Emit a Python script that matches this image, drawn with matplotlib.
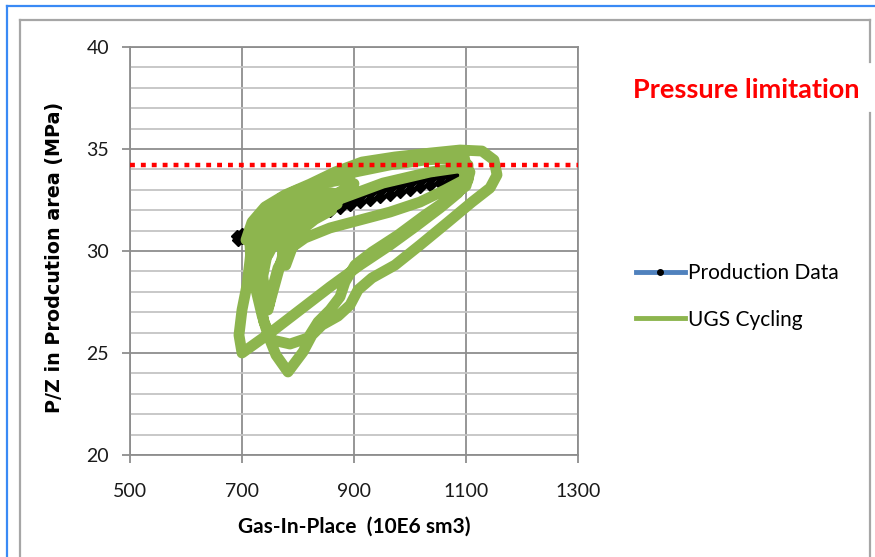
import matplotlib
matplotlib.use("Agg")
import matplotlib.pyplot as plt
from matplotlib.lines import Line2D
import numpy as np

# ---------------- data ----------------
x_ticks = [500, 700, 900, 1100, 1300]
y_ticks = [20, 25, 30, 35, 40]
pressure_limit = 34.2

ugs_gip = [707.1, 717.9, 741.1, 776.8, 821.4, 866.1, 914.3, 973.2, 1035.7, 1089.3,
           1128.6, 1150.0, 1155.4, 1142.9, 1110.7, 1067.9, 1017.9, 973.2, 932.1, 907.1,
           892.9, 871.4, 842.9, 825.0, 808.9, 782.1, 760.7, 746.4, 735.7, 725.0,
           716.1, 714.3, 725.0,
           750.0, 794.6, 848.2, 901.8, 964.3, 1026.8, 1080.4, 1103.6, 1103.6, 1085.7,
           1053.6, 1008.9, 964.3, 910.7, 857.1, 803.6, 750.0, 700.0, 694.6, 700.0,
           708.9, 714.3, 717.9, 732.1,
           758.9, 803.6, 857.1, 919.6, 991.1, 1053.6, 1094.6, 1100.0, 1096.4, 1062.5,
           1017.9, 964.3, 910.7, 857.1, 812.5, 782.1, 764.3, 753.6, 746.4, 735.7,
           728.6, 723.2, 735.7,
           767.9, 821.4, 875.0, 951.8, 1035.7, 1085.7, 1107.1, 1100.0, 1071.4, 1026.8,
           978.6, 932.1, 901.8, 883.9, 875.0, 857.1, 835.7, 817.9, 785.7, 753.6,
           739.3, 732.1, 737.5, 746.4, 753.6,
           785.7, 839.3, 892.9, 857.1, 803.6, 767.9, 746.4,
           745.0, 765.0, 800.0, 840.0, 875.0, 900.0, 880.0, 840.0, 800.0, 770.0,
           745.0, 730.0, 728.0, 735.0, 742.0, 748.0, 760.0, 775.0, 790.0, 820.0,
           850.0, 870.0,
           860.0, 825.0, 795.0, 775.0, 768.0, 772.0, 778.0, 790.0, 805.0, 830.0,
           860.0]
ugs_pz = [30.54, 31.42, 32.16, 32.75, 33.28, 33.87, 34.36, 34.61, 34.80, 34.95,
          34.90, 34.46, 33.73, 33.09, 32.40, 31.42, 30.29, 29.31, 28.68, 28.09,
          27.35, 26.81, 26.37, 25.88, 25.05, 24.07, 24.90, 25.88, 26.86, 28.09,
          29.31, 30.29, 31.27,
          32.01, 32.70, 33.38, 33.87, 34.22, 34.46, 34.56, 34.22, 33.48, 32.84,
          32.11, 31.18, 30.29, 29.31, 28.24, 27.11, 25.98, 25.00, 25.88, 27.11,
          28.33, 29.56, 30.54, 31.42,
          32.11, 32.79, 33.48, 34.07, 34.46, 34.71, 34.85, 34.22, 33.48, 32.99,
          32.40, 31.91, 31.52, 31.13, 30.64, 30.05, 29.17, 28.09, 27.11, 28.33,
          29.46, 30.54, 31.27,
          31.81, 32.21, 32.55, 33.33, 33.87, 34.07, 33.87, 33.19, 32.60, 31.76,
          30.78, 29.95, 29.31, 28.48, 27.75, 27.11, 26.52, 25.74, 25.44, 25.64,
          26.52, 27.60, 28.82, 30.05, 31.03,
          31.91, 32.60, 32.99, 32.50, 31.76, 30.93, 29.80,
          30.80, 31.45, 31.90, 32.30, 32.90, 33.30, 33.50, 33.30, 33.00, 32.60,
          32.00, 31.30, 30.30, 29.00, 28.00, 27.30, 28.50, 30.00, 31.00, 31.60,
          32.00, 32.30,
          32.85, 32.75, 32.45, 31.90, 31.00, 30.00, 29.30, 30.20, 31.00, 31.55,
          32.00]

prod_gip = [691, 700, 712, 725, 740, 755, 768, 785, 803, 820, 839, 857, 875, 893,
            911, 928, 946, 964, 982, 1000, 1018, 1036, 1054, 1070, 1086, 1100,
            1086, 1071, 1054, 1036, 1018, 1000, 982, 964, 946, 929, 911, 893, 875,
            857, 839, 821, 803, 786, 768, 750, 732, 714, 700, 693]
prod_pz = [30.74, 30.85, 30.98, 31.12, 31.27, 31.42, 31.52, 31.66, 31.81, 31.96,
           32.11, 32.25, 32.40, 32.55, 32.70, 32.82, 32.94, 33.07, 33.19, 33.31,
           33.43, 33.53, 33.63, 33.70, 33.77, 33.62,
           33.55, 33.45, 33.35, 33.23, 33.12, 33.00, 32.88, 32.76, 32.63, 32.52,
           32.40, 32.26, 32.12, 31.98, 31.85, 31.71, 31.57, 31.43, 31.29, 31.15,
           30.99, 30.80, 30.65, 30.55]

series_labels = ["Production Data", "UGS Cycling"]
title_text = "Pressure limitation"
x_label = "Gas-In-Place  (10E6 sm3)"
y_label = "P/Z in Prodcution area (MPa)"

# ---------------- style ----------------
FONT = ["Lato", "DejaVu Sans"]
GREEN = "#8DB54E"
BLUE = "#4F81BD"
W, H = 875, 557

fig = plt.figure(figsize=(W / 100, H / 100), dpi=100)
fig.patch.set_facecolor("white")

def fline(xs, ys, **kw):
    fig.add_artist(Line2D([x / W for x in xs], [1 - y / H for y in ys],
                          transform=fig.transFigure, **kw))

fline([7, W + 5], [6, 6], color="#3A8AF5", lw=1.6)
fline([7, 7], [6, H + 5], color="#3A8AF5", lw=1.6)
fline([20, 870], [20, 20], color="#A6A6A6", lw=1.6)
fline([20, 20], [20, H + 5], color="#A6A6A6", lw=1.6)
fline([870, 870], [20, 62], color="#A6A6A6", lw=1.6)
fline([870, 870], [113, H + 5], color="#A6A6A6", lw=1.6)

ax = fig.add_axes([130 / W, 1 - 455 / H, 448 / W, 408 / H])
ax.set_xlim(x_ticks[0], x_ticks[-1])
ax.set_ylim(y_ticks[0], y_ticks[-1])
ax.set_xticks(x_ticks)
ax.set_yticks(y_ticks)
ax.set_yticks(np.arange(y_ticks[0], y_ticks[-1] + 1, 1), minor=True)
ax.grid(which="major", color="#8E8E8E", lw=1.3)
ax.grid(which="minor", axis="y", color="#C4C4C4", lw=1.3)
ax.set_axisbelow(True)
for s in ax.spines.values():
    s.set_color("#8E8E8E")
    s.set_linewidth(1.3)
ax.tick_params(which="major", direction="out", length=6, width=1.3, color="#8E8E8E",
               labelsize=14, labelcolor="#1a1a1a")
ax.tick_params(which="minor", length=0)
ax.tick_params(axis="y", pad=9)
ax.tick_params(axis="x", pad=14)
for lab in ax.get_xticklabels() + ax.get_yticklabels():
    lab.set_family(FONT)

ax.plot(prod_gip, prod_pz, color=BLUE, lw=2, marker="D", markersize=6,
        mfc="black", mec="black", zorder=4)
ax.plot(ugs_gip, ugs_pz, color=GREEN, lw=7.8, solid_joinstyle="round",
        solid_capstyle="round", zorder=5)
ax.axhline(pressure_limit, color="#FF0000", lw=3.2, linestyle=(0, (1.1, 1.35)), zorder=6)

ax.set_xlabel(x_label, fontsize=15, fontweight="bold", family=FONT, labelpad=12)
ax.set_ylabel(y_label, fontsize=13.8, fontweight="bold", family=["DejaVu Sans"])
ax.yaxis.set_label_coords(-0.148, 0.483)

fig.text(633 / W, 1 - 98 / H, title_text, color="#FF0000", fontsize=19.5,
         fontweight="bold", family=FONT, ha="left", va="baseline")

handles = [Line2D([], [], color=BLUE, lw=3.5, marker="o", markersize=4,
                  mfc="black", mec="black"),
           Line2D([], [], color=GREEN, lw=3.5)]
leg = fig.legend(handles, series_labels, loc="center left",
                 bbox_to_anchor=(636 / W, 1 - 296.5 / H), frameon=False,
                 prop={"family": FONT, "size": 15}, handlelength=2.35,
                 handletextpad=0.15, labelspacing=1.25, borderpad=0, borderaxespad=0)

fig.savefig("out.png", dpi=100)
